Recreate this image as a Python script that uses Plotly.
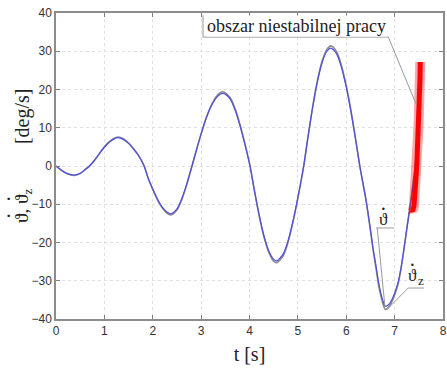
import plotly.graph_objects as go

# time samples (s)
t = [0, 0.1, 0.2, 0.3, 0.38, 0.5, 0.6, 0.69, 0.8, 0.9, 1.0, 1.1, 1.2, 1.28, 1.4, 1.5, 1.6, 1.7,
     1.82, 1.9, 2.0, 2.1, 2.2, 2.3, 2.37, 2.5, 2.6, 2.7, 2.81, 2.9, 3.0, 3.1, 3.2, 3.3, 3.4,
     3.46, 3.6, 3.7, 3.8, 3.9, 4.01, 4.1, 4.2, 4.3, 4.4, 4.5, 4.56, 4.7, 4.8, 4.9, 5.0, 5.12,
     5.2, 5.3, 5.4, 5.5, 5.6, 5.68, 5.8, 5.9, 6.0, 6.1, 6.2, 6.28, 6.35, 6.41, 6.5, 6.56, 6.62,
     6.67, 6.74, 6.81, 6.88, 6.96, 7.07, 7.13, 7.19, 7.26, 7.34, 7.40, 7.45, 7.49, 7.52]

# blue: measured angular velocity (theta dot), deg/s
v_blue = [0, -1.0, -1.8, -2.25, -2.35, -1.9, -0.9, 0, 1.6, 3.3, 4.9, 6.2, 7.1, 7.4, 6.9, 5.9,
          4.5, 2.8, 0, -3.0, -6.0, -8.7, -10.8, -12.1, -12.5, -11.2, -8.5, -4.8, 0, 4.1, 8.4,
          12.3, 15.4, 17.6, 18.8, 19.0, 17.5, 14.7, 10.7, 5.9, 0, -6.3, -12.8, -18.3, -22.2,
          -24.4, -24.8, -22.9, -19.4, -14.3, -8.2, 0, 6.8, 14.9, 21.8, 27.0, 30.0, 30.8, 29.3,
          25.8, 20.6, 14.0, 6.4, 0, -4.8, -8.9, -16.5, -21.9, -26.5, -30.5, -34.5, -36.7,
          -36.2, -34.5, -30.5, -26.8, -21.9, -15.8, -8.9, -2.8, 4.2, 11.0, 17.0]

# gray: reference angular velocity (theta dot z), deg/s
t_z = t[:-3]
v_gray = [0, -1.0, -1.8, -2.3, -2.45, -2.0, -1.0, -0.1, 1.5, 3.3, 5.0, 6.3, 7.2, 7.6, 7.1,
          6.0, 4.6, 2.9, 0.1, -3.0, -6.1, -8.9, -11.0, -12.4, -12.8, -11.5, -8.8, -5.0, -0.1,
          4.0, 8.4, 12.4, 15.6, 17.9, 19.2, 19.4, 17.9, 15.0, 11.0, 6.1, 0.1, -6.3, -13.0,
          -18.6, -22.6, -24.9, -25.3, -23.4, -19.8, -14.6, -8.4, -0.1, 6.8, 15.0, 22.1, 27.4,
          30.5, 31.4, 29.9, 26.3, 21.0, 14.3, 6.5, 0, -4.9, -9.1, -16.9, -22.4, -27.1, -31.2,
          -35.2, -37.5, -36.9, -35.0, -30.9, -27.0, -22.0, -15.6, -8.6, -2.5]

# red: unstable operation region
t_red = [7.35, 7.37, 7.40, 7.42, 7.43, 7.44, 7.46, 7.47, 7.49, 7.50, 7.51, 7.52, 7.525, 7.53]
v_red = [-11.5, -11.8, -10.5, -7.6, -5.5, -3.7, 0.5, 4.0, 9.4, 12.5, 16.0, 19.5, 23.0, 27.2]

x_ticks = [0, 1, 2, 3, 4, 5, 6, 7, 8]
y_ticks = [-40, -30, -20, -10, 0, 10, 20, 30, 40]

fig = go.Figure()
fig.add_trace(go.Scatter(x=t_z, y=v_gray, mode="lines",
                         line=dict(color="#8a8a8a", width=1.6, shape="spline", smoothing=0.8),
                         showlegend=False, hoverinfo="skip"))
fig.add_trace(go.Scatter(x=t, y=v_blue, mode="lines",
                         line=dict(color="#5050dc", width=1.2, shape="spline", smoothing=0.8),
                         showlegend=False))
fig.add_trace(go.Scatter(x=t_red, y=v_red, mode="lines", line=dict(color="rgba(255,0,0,0.35)", width=10),
                         showlegend=False, hoverinfo="skip"))
fig.add_trace(go.Scatter(x=t_red, y=v_red, mode="lines", line=dict(color="#ff0000", width=5),
                         showlegend=False))

serif = "Liberation Serif, Times New Roman, serif"
txt = "#222"
line_col = "#9a9a9a"

# callout: obszar niestabilnej pracy
fig.add_shape(type="line", xref="x", yref="y", x0=3.04, y0=39.4, x1=3.04, y1=33.7, line=dict(color=line_col, width=1))
fig.add_shape(type="line", xref="x", yref="y", x0=3.04, y0=33.7, x1=6.87, y1=33.7, line=dict(color=line_col, width=1))
fig.add_shape(type="line", xref="x", yref="y", x0=6.87, y0=33.7, x1=7.45, y1=16.0, line=dict(color=line_col, width=1))
fig.add_annotation(x=4.97, y=36.6, xref="x", yref="y", text="obszar niestabilnej pracy", showarrow=False,
                   font=dict(family=serif, size=18, color=txt), bgcolor="white", borderpad=0)

# callout: theta dot
fig.add_shape(type="line", xref="x", yref="y", x0=6.62, y0=-16.2, x1=6.99, y1=-16.2, line=dict(color=line_col, width=1))
fig.add_shape(type="line", xref="x", yref="y", x0=6.64, y0=-16.2, x1=6.80, y1=-36.8, line=dict(color=line_col, width=1))
fig.add_annotation(x=6.78, y=-14.0, xref="x", yref="y", text="ϑ", showarrow=False,
                   font=dict(family=serif, size=17, color=txt))
fig.add_annotation(x=6.77, y=-11.2, xref="x", yref="y", text="·", showarrow=False,
                   font=dict(family=serif, size=20, color=txt))

# callout: theta dot z
fig.add_shape(type="line", xref="x", yref="y", x0=7.28, y0=-31.9, x1=7.61, y1=-31.9, line=dict(color=line_col, width=1))
fig.add_shape(type="line", xref="x", yref="y", x0=7.28, y0=-31.9, x1=6.89, y1=-36.9, line=dict(color=line_col, width=1))
fig.add_annotation(x=7.37, y=-28.6, xref="x", yref="y", text="ϑ", showarrow=False,
                   font=dict(family=serif, size=17, color=txt))
fig.add_annotation(x=7.555, y=-30.0, xref="x", yref="y", text="z", showarrow=False,
                   font=dict(family=serif, size=13, color=txt))
fig.add_annotation(x=7.36, y=-25.8, xref="x", yref="y", text="·", showarrow=False,
                   font=dict(family=serif, size=20, color=txt))

# y-axis title, built from pieces so the dots sit above the thetas
fig.add_annotation(x=-0.088, y=0.663, xref="paper", yref="paper", xanchor="center", yanchor="middle",
                   text="[deg/s]", textangle=-90,
                   showarrow=False, font=dict(family=serif, size=20, color=txt))
fig.add_annotation(x=-0.085, y=0.37, xref="paper", yref="paper", xanchor="center", yanchor="middle",
                   text="ϑ, ϑ<sub>z</sub>", textangle=-90,
                   showarrow=False, font=dict(family=serif, size=19, color=txt))
fig.add_annotation(x=-0.124, y=0.337, xref="paper", yref="paper", xanchor="center", yanchor="middle",
                   text="·", showarrow=False, font=dict(family=serif, size=22, color=txt))
fig.add_annotation(x=-0.124, y=0.395, xref="paper", yref="paper", xanchor="center", yanchor="middle",
                   text="·", showarrow=False, font=dict(family=serif, size=22, color=txt))

axis_common = dict(showgrid=True, gridcolor="#e0e0e0", griddash="dot", gridwidth=1,
                   ticks="inside", ticklen=4, tickcolor="#808080", showline=True, linecolor="#8c8c8c",
                   linewidth=1.5, mirror="ticks", zeroline=False, automargin=False,
                   tickfont=dict(family="Liberation Sans, Arial, sans-serif", size=12, color="#333"))

fig.update_xaxes(range=[0, 8], tickvals=x_ticks, **axis_common,
                 title=dict(text="t [s]", font=dict(family=serif, size=20, color=txt), standoff=10))
fig.update_yaxes(range=[-40, 40], tickvals=y_ticks, **axis_common)

fig.update_layout(width=447, height=369, margin=dict(l=56, r=4, t=13, b=50),
                  plot_bgcolor="white", paper_bgcolor="white", showlegend=False)

fig.write_html("out.html", config={"displayModeBar": False},
               post_script="document.body.style.margin='0px';document.body.style.overflow='hidden';")
